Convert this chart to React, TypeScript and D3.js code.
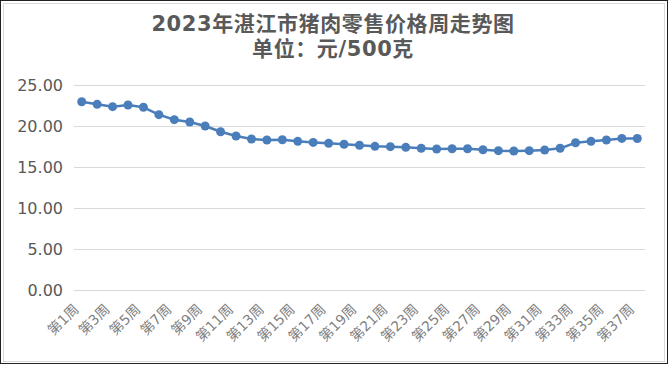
import React, { useEffect, useRef } from 'react'
import * as d3 from 'd3'

const title = '2023年湛江市猪肉零售价格周走势图'
const subtitle = '单位：元/500克'

const weeks = d3.range(1, 38).map(i => `第${i}周`)
const prices = [
  22.96, 22.64, 22.36, 22.56, 22.28, 21.38, 20.77, 20.49, 20.0, 19.3,
  18.78, 18.41, 18.29, 18.33, 18.13, 18.0, 17.89, 17.77, 17.65, 17.52,
  17.48, 17.4, 17.28, 17.2, 17.23, 17.23, 17.11, 16.99, 16.95, 16.99,
  17.07, 17.28, 17.96, 18.13, 18.29, 18.49, 18.47
]
const yTicks = [0, 5, 10, 15, 20, 25]

const W = 670
const H = 365
const FONT = "'DejaVu Sans', 'Noto Sans CJK SC', sans-serif"

const App = () => {
  const ref = useRef(null)
  const margin = { top: 85, right: 25, bottom: 75, left: 74 }

  useEffect(() => {
    const svg = d3.select(ref.current)
    svg.selectAll('*').remove()

    const x = d3.scaleBand()
      .domain(weeks)
      .range([margin.left, W - margin.right])
      .padding(0)

    const y = d3.scaleLinear()
      .domain([0, 25])
      .range([H - margin.bottom, margin.top])

    const cx = d => x(d) + x.bandwidth() / 2

    // frame
    svg.append('rect')
      .attr('x', 0.5).attr('y', 0.5)
      .attr('width', W - 3).attr('height', H - 2)
      .attr('fill', '#fff')
      .attr('stroke', '#222')
    svg.append('rect')
      .attr('x', 3.5).attr('y', 3.5)
      .attr('width', W - 9).attr('height', H - 7)
      .attr('fill', 'none')
      .attr('stroke', '#d9d9d9')

    // titles
    svg.append('text')
      .attr('x', 333).attr('y', 31)
      .attr('text-anchor', 'middle')
      .attr('font-family', FONT)
      .attr('font-weight', 'bold')
      .attr('font-size', 21)
      .attr('letter-spacing', 0.6)
      .attr('fill', '#595959')
      .text(title)
    svg.append('text')
      .attr('x', 333).attr('y', 56)
      .attr('text-anchor', 'middle')
      .attr('font-family', FONT)
      .attr('font-weight', 'bold')
      .attr('font-size', 21)
      .attr('letter-spacing', 0.6)
      .attr('fill', '#595959')
      .text(subtitle)

    // y grid + labels
    const yAxis = g => g
      .attr('transform', `translate(${margin.left},0)`)
      .call(d3.axisLeft(y).tickValues(yTicks).tickSize(-(W - margin.left - margin.right)).tickPadding(11).tickFormat(d3.format('.2f')))
      .call(g => g.select('.domain').remove())
      .call(g => g.selectAll('.tick line').attr('stroke', '#d9d9d9'))
      .call(g => g.selectAll('.tick text')
        .attr('font-family', FONT)
        .attr('font-size', 16)
        .attr('fill', '#595959'))

    svg.append('g').call(yAxis)

    // x labels (every other week)
    svg.append('g')
      .selectAll('text')
      .data(weeks.filter((d, i) => i % 2 === 0))
      .join('text')
      .attr('transform', d => `translate(${cx(d) - 2},${H - margin.bottom + 20}) rotate(-45)`)
      .attr('text-anchor', 'end')
      .attr('font-family', FONT)
      .attr('font-size', 14)
      .attr('fill', '#7f7f7f')
      .text(d => d)

    const line = d3.line()
      .x((d, i) => cx(weeks[i]))
      .y(d => y(d))

    svg.append('path')
      .datum(prices)
      .attr('fill', 'none')
      .attr('stroke', '#4a7ebb')
      .attr('stroke-width', 2.5)
      .attr('stroke-linejoin', 'round')
      .attr('d', line)

    svg.append('g')
      .selectAll('circle')
      .data(prices)
      .join('circle')
      .attr('cx', (d, i) => cx(weeks[i]))
      .attr('cy', d => y(d))
      .attr('r', 4.5)
      .attr('fill', '#4a7ebb')
  }, [])

  return (
    <svg
      ref={ref}
      width={W}
      height={H}
      style={{ position: 'absolute', left: 0, top: 0 }}
    />
  )
}

export default App
